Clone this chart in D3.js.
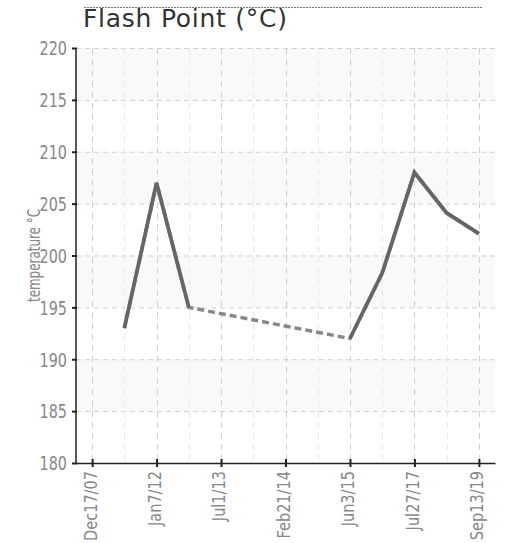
<!DOCTYPE html>
<html>
<head>
<meta charset="utf-8">
<script src="https://cdn.jsdelivr.net/npm/d3@7"></script>
<style>
body { margin: 0; background: #fff; }
.chart text { font-family: "Liberation Sans Narrow", "DejaVu Sans Condensed", sans-serif; fill: #888; }
.chart .title { font-family: "DejaVu Sans", Verdana, sans-serif; fill: #333; }
</style>
</head>
<body>
<svg class="chart"></svg>
<script>
//chart data
var tickLabels = ["Dec17/07", "Jan7/12", "Jul1/13", "Feb21/14", "Jun3/15", "Jul27/17", "Sep13/19"];
var slots = [0, 1, 2, 3, 4, 5, 6, 7, 8, 9, 10, 11, 12]; // every other slot carries a label
var flashPoint = [null, 193, 207, 195, null, null, null, null, 192, 198.3, 208, 204.1, 202.1];
var yTicks = [180, 185, 190, 195, 200, 205, 210, 215, 220];

var margin = {top: 48, right: 13, bottom: 80, left: 76},
    width = 508 - margin.left - margin.right,
    height = 543 - margin.top - margin.bottom;

var x = d3.scaleLinear().domain([-0.5, slots.length - 0.5]).range([0, width]);
var y = d3.scaleLinear().domain([180, 220]).range([height, 0]);

//squeeze a text so it looks like a narrow face
function condense(sel, k)
{
	sel.each(function()
		{
			var w = this.getComputedTextLength();
			d3.select(this).attr("textLength", w * k).attr("lengthAdjust", "spacingAndGlyphs");
		});
}

var svg = d3.select(".chart")
    .attr("width", 508)
    .attr("height", 543);

//title
svg.append("line")
    .attr("x1", 84).attr("x2", 483).attr("y1", 7.5).attr("y2", 7.5)
    .attr("stroke", "#777").attr("stroke-dasharray", "2,1");
svg.append("text")
    .attr("class", "title")
    .attr("x", 83).attr("y", 27)
    .style("font-size", "25px")
    .attr("textLength", 204)
    .attr("lengthAdjust", "spacing")
    .text("Flash Point (\u00B0C)");

var chart = svg.append("g")
    .attr("transform", "translate(" + margin.left + "," + margin.top + ")");

//alternating bands
chart.selectAll(".band")
    .data(yTicks.slice(1).filter(function(d, i) { return i % 2 == 1; }))
  .enter().append("rect")
    .attr("class", "band")
    .attr("x", 0)
    .attr("y", function(d) { return y(d); })
    .attr("width", width)
    .attr("height", function(d) { return y(d - 5) - y(d); })
    .attr("fill", "#f9f9f9");

//grid
chart.selectAll(".hgrid")
    .data(yTicks.slice(1))
  .enter().append("line")
    .attr("x1", 0).attr("x2", width + 2)
    .attr("y1", function(d) { return y(d) + 0.5; })
    .attr("y2", function(d) { return y(d) + 0.5; })
    .attr("stroke", "#d0d0d0").attr("stroke-dasharray", "5,4");

chart.selectAll(".vgrid")
    .data(slots)
  .enter().append("line")
    .attr("x1", function(d) { return Math.round(x(d)) + 0.5; })
    .attr("x2", function(d) { return Math.round(x(d)) + 0.5; })
    .attr("y1", 0).attr("y2", height)
    .attr("stroke", function(d) { return d % 2 == 0 ? "#cfcfcf" : "#e8e8e8"; })
    .attr("stroke-dasharray", "6,5");

//line, dashed across the gap
var line = d3.line()
    .defined(function(d) { return d != null; })
    .x(function(d, i) { return x(i); })
    .y(function(d) { return y(d); });

var known = flashPoint.map(function(d, i) { return d == null ? null : [i, d]; }).filter(function(d) { return d; });

chart.append("path")
    .datum(known)
    .attr("fill", "none")
    .attr("stroke", "#888")
    .attr("stroke-width", 3.5)
    .attr("stroke-dasharray", "7,4")
    .attr("d", d3.line().x(function(d) { return x(d[0]); }).y(function(d) { return y(d[1]); }));

chart.append("path")
    .datum(flashPoint)
    .attr("fill", "none")
    .attr("stroke", "#666")
    .attr("stroke-width", 3.8)
    .attr("d", line);

//axes
var yAxis = d3.axisLeft(y).tickValues(yTicks).tickSize(6).tickPadding(3);
var xAxis = d3.axisBottom(x)
    .tickValues(slots.filter(function(d) { return d % 2 == 0; }))
    .tickFormat(function(d) { return tickLabels[d / 2]; })
    .tickSizeInner(4).tickSizeOuter(0);

var gy = chart.append("g").call(yAxis);
gy.select(".domain").attr("stroke", "#222").attr("stroke-width", 1.5).attr("d", "M0," + height + "V0");
gy.selectAll(".tick line").attr("stroke", "#222").attr("stroke-width", 2).attr("x1", -4).attr("x2", 1);
gy.selectAll("text").style("font-size", "19px").attr("fill", "#888").attr("dy", ".36em").call(condense, 0.84);

var gx = chart.append("g")
    .attr("transform", "translate(0," + height + ")")
    .call(xAxis);
gx.select(".domain").attr("stroke", "#222").attr("stroke-width", 1.5);
gx.selectAll(".tick line").attr("stroke", "#222").attr("stroke-width", 2).attr("y1", -4).attr("y2", 4);
gx.selectAll("text")
    .style("font-size", "17px")
    .attr("fill", "#888")
    .attr("transform", "rotate(-90)")
    .attr("x", -8).attr("y", -2)
    .attr("dy", ".35em")
    .style("text-anchor", "end")
    .call(condense, 0.95);

chart.append("text")
    .attr("transform", "rotate(-90)")
    .attr("x", -height / 2)
    .attr("y", -36)
    .style("text-anchor", "middle")
    .style("font-size", "17px")
    .text("temperature \u00B0C")
    .call(condense, 0.78);
</script>
</body>
</html>
